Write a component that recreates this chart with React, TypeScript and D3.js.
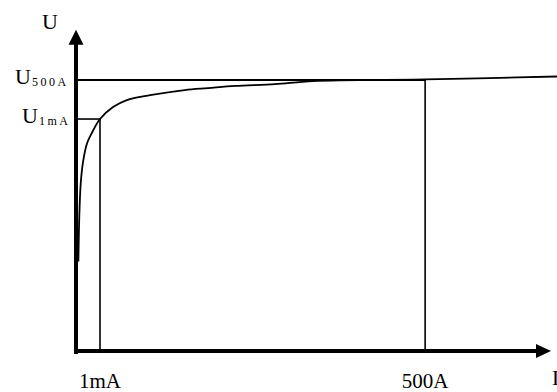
import React, { useEffect, useRef } from "react";
import * as d3 from "d3";

// varistor U-I characteristic (arbitrary units: I 0..100, U 0..100 where U500A = 100)
const curveI = [0.5, 0.7, 1.0, 1.5, 2.3, 3.5, 5.05, 7.8, 10.7, 15.6, 22.9, 27.8, 33.5, 41.9, 49.9, 73.5, 86.9, 101.5];
const curveU = [33, 50, 62, 70, 76.5, 81, 85.6, 90, 92.6, 94.4, 96.3, 97, 97.8, 98.5, 99.6, 100.2, 100.7, 101.3];

const refCurrents = [5.05, 73.5];
const currentLabels = ["1mA", "500A"];
const refVoltages = [100, 85.6];
const voltageSubs = ["500A", "1mA"];

const xMax = 100;
const yMax = 118.5;

const W = 557;
const H = 392;

const App = () => {
  const svgRef = useRef<SVGSVGElement | null>(null);

  useEffect(() => {
    if (!svgRef.current) return;
    const svg = d3.select(svgRef.current);
    svg.selectAll("*").remove();

    const x = d3.scaleLinear().domain([0, 100]).range([76, 551]);
    const y = d3.scaleLinear().domain([0, 100]).range([351, 80]);
    const font = "'Liberation Serif', 'Times New Roman', serif";

    // U500A horizontal up to the 500A vertical
    svg
      .append("line")
      .attr("x1", x(0))
      .attr("x2", x(refCurrents[1]))
      .attr("y1", y(refVoltages[0]))
      .attr("y2", y(refVoltages[0]))
      .attr("stroke", "#000")
      .attr("stroke-width", 2);
    // U1mA horizontal up to the 1mA vertical
    svg
      .append("line")
      .attr("x1", x(0))
      .attr("x2", x(refCurrents[0]))
      .attr("y1", y(refVoltages[1]))
      .attr("y2", y(refVoltages[1]))
      .attr("stroke", "#000")
      .attr("stroke-width", 1.6);

    // verticals
    refCurrents.forEach((c, i) => {
      svg
        .append("line")
        .attr("x1", x(c))
        .attr("x2", x(c))
        .attr("y1", y(0))
        .attr("y2", y(refVoltages[i === 0 ? 1 : 0]))
        .attr("stroke", "#000")
        .attr("stroke-width", 1.6);
    });

    // curve
    const pts: [number, number][] = curveI.map((v, i) => [v, curveU[i]]);
    const line = d3
      .line<[number, number]>()
      .x((d) => x(d[0]))
      .y((d) => y(d[1]))
      .curve(d3.curveCatmullRom.alpha(0.5));
    svg
      .append("path")
      .attr("d", line(pts))
      .attr("fill", "none")
      .attr("stroke", "#000")
      .attr("stroke-width", 1.8);

    // axes
    svg
      .append("line")
      .attr("x1", x(0))
      .attr("x2", x(0))
      .attr("y1", y(0) + 3)
      .attr("y2", y(yMax) + 12)
      .attr("stroke", "#000")
      .attr("stroke-width", 4);
    svg
      .append("line")
      .attr("x1", x(0) - 2)
      .attr("x2", x(xMax) - 12)
      .attr("y1", y(0))
      .attr("y2", y(0))
      .attr("stroke", "#000")
      .attr("stroke-width", 4);

    // arrowheads
    const tipY = y(yMax);
    svg
      .append("path")
      .attr("d", `M${x(0)},${tipY} L${x(0) - 7.5},${tipY + 15} L${x(0) + 7.5},${tipY + 15} Z`)
      .attr("fill", "#000");
    const tipX = x(xMax);
    svg
      .append("path")
      .attr("d", `M${tipX},${y(0)} L${tipX - 15},${y(0) - 7} L${tipX - 15},${y(0) + 7} Z`)
      .attr("fill", "#000");

    // axis titles
    svg
      .append("text")
      .attr("x", 42)
      .attr("y", 29)
      .attr("font-family", font)
      .attr("font-size", 22)
      .text("U");
    svg
      .append("text")
      .attr("x", 552)
      .attr("y", 385)
      .attr("font-family", font)
      .attr("font-size", 21)
      .text("I");

    // current labels
    currentLabels.forEach((t, i) => {
      svg
        .append("text")
        .attr("x", x(refCurrents[i]))
        .attr("y", 388)
        .attr("text-anchor", "middle")
        .attr("font-family", font)
        .attr("font-size", 21)
        .text(t);
    });

    // voltage labels with subscripts
    const ux = [15, 22];
    voltageSubs.forEach((s, i) => {
      const t = svg
        .append("text")
        .attr("x", ux[i])
        .attr("y", y(refVoltages[i]) + 4)
        .attr("font-family", font)
        .attr("font-size", 22);
      t.append("tspan").text("U");
      t.append("tspan")
        .attr("font-size", 12)
        .attr("letter-spacing", 2.5)
        .attr("dy", 2)
        .attr("dx", 1)
        .text(s);
    });
  }, []);

  return (
    <svg
      ref={svgRef}
      width={W}
      height={H}
      style={{ position: "absolute", left: 0, top: 0, background: "#fff" }}
    />
  );
};

export default App;
